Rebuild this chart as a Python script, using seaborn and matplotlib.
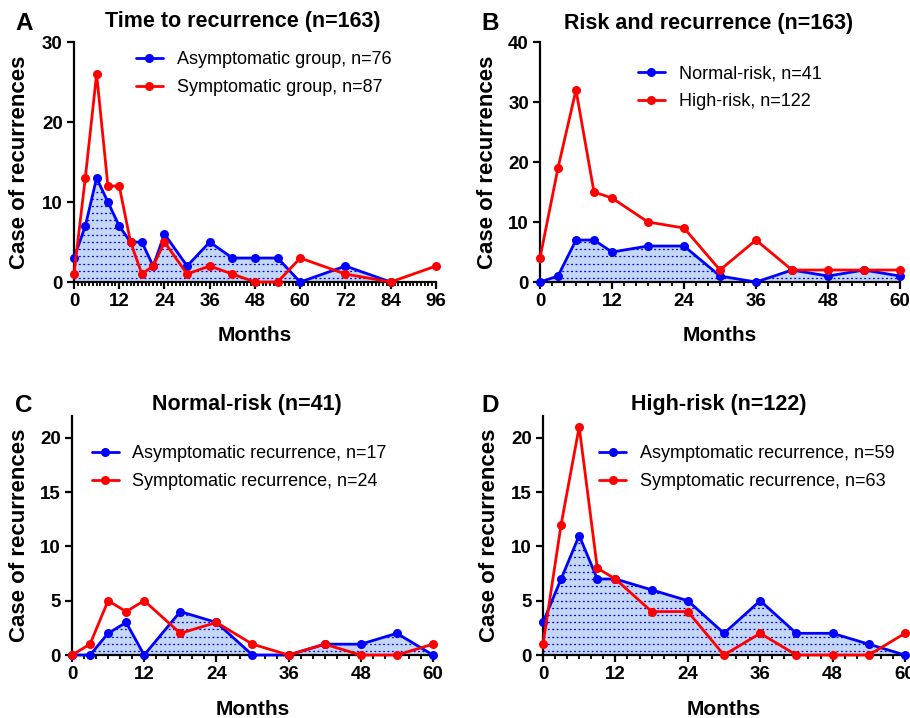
import numpy as np
import matplotlib
matplotlib.use('Agg')
import matplotlib.pyplot as plt
import seaborn as sns
from matplotlib.ticker import MultipleLocator
#
# Data (months after surgery / case counts):
months_a_asym = [0, 3, 6, 9, 12, 15, 18, 21, 24, 30, 36, 42, 48, 54, 60, 72, 84]
asym_group = [3, 7, 13, 10, 7, 5, 5, 2, 6, 2, 5, 3, 3, 3, 0, 2, 0]
months_a_sym = [0, 3, 6, 9, 12, 15, 18, 21, 24, 30, 36, 42, 48, 54, 60, 72, 84, 96]
sym_group = [1, 13, 26, 12, 12, 5, 1, 2, 5, 1, 2, 1, 0, 0, 3, 1, 0, 2]
#
months = [0, 3, 6, 9, 12, 18, 24, 30, 36, 42, 48, 54, 60]
normal_risk = [0, 1, 7, 7, 5, 6, 6, 1, 0, 2, 1, 2, 1]
high_risk = [4, 19, 32, 15, 14, 10, 9, 2, 7, 2, 2, 2, 2]
#
normal_asym = [0, 0, 2, 3, 0, 4, 3, 0, 0, 1, 1, 2, 0]
normal_sym = [0, 1, 5, 4, 5, 2, 3, 1, 0, 1, 0, 0, 1]
#
high_asym = [3, 7, 11, 7, 7, 6, 5, 2, 5, 2, 2, 1, 0]
high_sym = [1, 12, 21, 8, 7, 4, 4, 0, 2, 0, 0, 0, 2]
#
# Style:
sns.set_style('ticks')
plt.rcParams['font.family'] = ['Liberation Sans', 'DejaVu Sans']
plt.rcParams['text.color'] = 'black'
plt.rcParams['axes.labelcolor'] = 'black'
plt.rcParams['axes.linewidth'] = 1.6
plt.rcParams['xtick.major.width'] = 1.6
plt.rcParams['ytick.major.width'] = 1.6
plt.rcParams['xtick.minor.width'] = 1.3
plt.rcParams['xtick.major.size'] = 5
plt.rcParams['ytick.major.size'] = 5
plt.rcParams['xtick.minor.size'] = 3
plt.rcParams['xtick.color'] = 'black'
plt.rcParams['ytick.color'] = 'black'
plt.rcParams['axes.edgecolor'] = 'black'
#
BLUE = '#0000ff'
RED = '#ff0000'
FILL = '#c4d7f5'
#
fig = plt.figure(figsize=(9.1, 7.18), dpi=100)
#
# Axes positions (left, bottom, width, height) in figure fraction:
axA = fig.add_axes([0.0813, 0.6072, 0.3978, 0.3343])
axB = fig.add_axes([0.5934, 0.6072, 0.3956, 0.3343])
axC = fig.add_axes([0.0791, 0.0877, 0.3967, 0.3329])
axD = fig.add_axes([0.5967, 0.0877, 0.3978, 0.3329])
#
def dotted_fill(ax, x, y):
    # light blue area with rows of small blue dashes, clipped to the area
    poly = ax.fill_between(x, y, color=FILL, linewidth=0, zorder=1)
    h = ax.get_position().height * fig.get_figheight() * fig.dpi
    ys = np.arange(4, h, 7.2) / h
    lc = ax.hlines(ys, 0, 1, transform=ax.transAxes, colors=BLUE,
                   linewidth=0.9, linestyles=(0, (1.5, 2.0)), zorder=1.5)
    lc.set_clip_path(poly.get_paths()[0], ax.transData)
#
def draw_panel(ax, x1, y1, lab1, x2, y2, lab2, xmax, xminor, ymax, yticks,
               leg_anchor, ylab_x, xlab_y):
    dotted_fill(ax, x1, y1)
    sns.lineplot(x=x1, y=y1, ax=ax, color=BLUE, marker='o', markersize=6.5,
                 markeredgewidth=0, linewidth=2, label=lab1, clip_on=False,
                 zorder=3)
    sns.lineplot(x=x2, y=y2, ax=ax, color=RED, marker='o', markersize=6.5,
                 markeredgewidth=0, linewidth=2, label=lab2, clip_on=False,
                 zorder=4)
    ax.set_xlim(0, xmax)
    ax.set_ylim(0, ymax)
    ax.xaxis.set_major_locator(MultipleLocator(12))
    ax.xaxis.set_minor_locator(MultipleLocator(xminor))
    ax.set_yticks(yticks)
    for t in ax.get_xticklabels() + ax.get_yticklabels():
        t.set_fontweight('bold')
        t.set_fontsize(13.5)
    ax.tick_params(axis='both', which='major', pad=3)
    sns.despine(ax=ax)
    ax.set_xlabel('Months', fontsize=15, fontweight='bold')
    ax.set_ylabel('Case of recurrences', fontsize=16, fontweight='bold')
    ax.xaxis.set_label_coords(0.5, xlab_y)
    ax.yaxis.set_label_coords(ylab_x, 0.5)
    ax.legend(loc='upper left', bbox_to_anchor=leg_anchor, frameon=False,
              fontsize=13, borderpad=0, borderaxespad=0, handlelength=1.5,
              handletextpad=0.75, labelspacing=0.6)
#
draw_panel(axA, months_a_asym, asym_group, 'Asymptomatic group, n=76',
           months_a_sym, sym_group, 'Symptomatic group, n=87',
           96, 1, 30, [0, 10, 20, 30], (0.171, 0.962), -0.122, -0.182)
draw_panel(axB, months, normal_risk, 'Normal-risk, n=41',
           months, high_risk, 'High-risk, n=122',
           60, 2, 40, [0, 10, 20, 30, 40], (0.272, 0.903), -0.117, -0.182)
draw_panel(axC, months, normal_asym, 'Asymptomatic recurrence, n=17',
           months, normal_sym, 'Symptomatic recurrence, n=24',
           60, 2, 22, [0, 5, 10, 15, 20], (0.055, 0.877), -0.116, -0.188)
draw_panel(axD, months, high_asym, 'Asymptomatic recurrence, n=59',
           months, high_sym, 'Symptomatic recurrence, n=63',
           60, 2, 22, [0, 5, 10, 15, 20], (0.155, 0.877), -0.119, -0.188)
#
# Titles and panel letters (figure pixel positions -> fractions):
W, H = 910, 718
titles = [('Time to recurrence (n=163)', 243, 22), ('Risk and recurrence (n=163)', 709, 24),
          ('Normal-risk (n=41)', 247, 404), ('High-risk (n=122)', 719, 404)]
for txt, px, py in titles:
    fig.text(px / W, 1 - py / H, txt, ha='center', va='center',
             fontsize=15.5, fontweight='bold')
letters = [('A', 15, 23), ('B', 481, 23), ('C', 15, 405), ('D', 481, 405)]
for txt, px, py in letters:
    fig.text(px / W, 1 - py / H, txt, ha='left', va='center',
             fontsize=17.5, fontweight='bold')
#
fig.savefig('out.png', dpi=100)
